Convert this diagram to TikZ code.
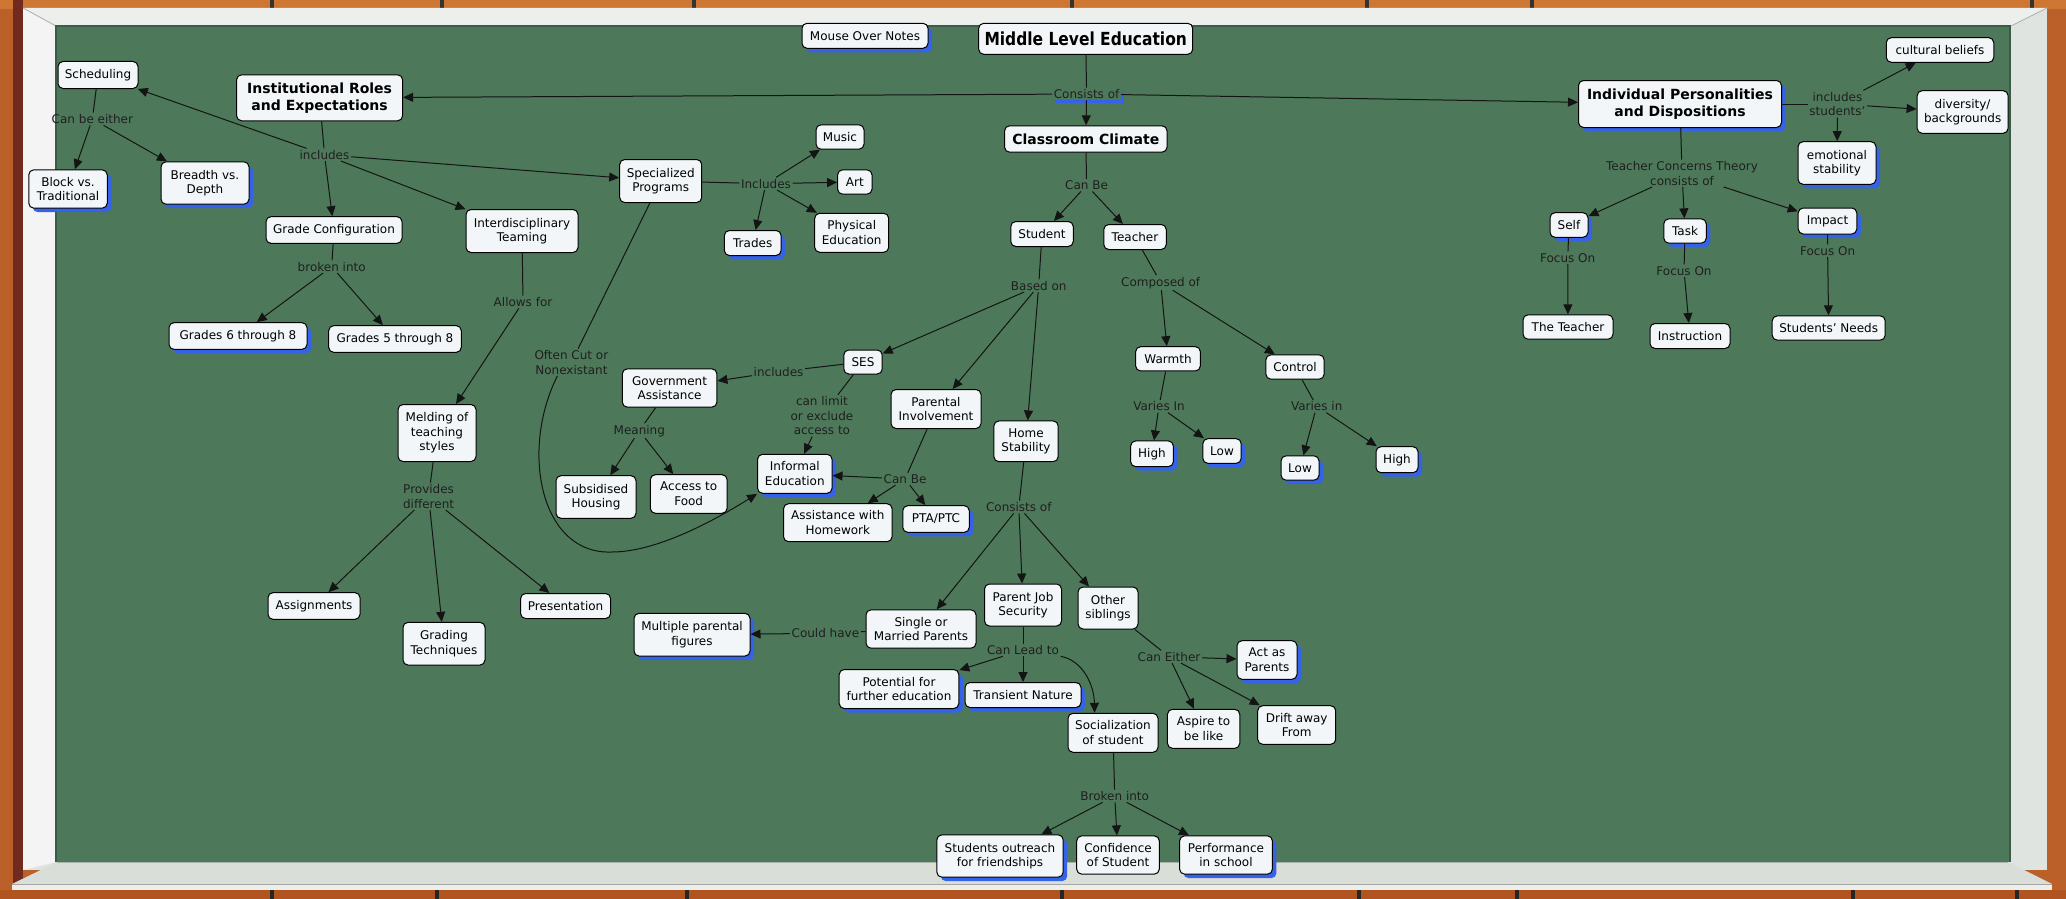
\documentclass[tikz,border=0pt]{standalone}
\usepackage{fontspec}
\usepackage{graphicx}
\setmainfont{DejaVu Sans}
\usetikzlibrary{arrows.meta,shadows}
\definecolor{board}{RGB}{77,121,90}
\definecolor{wood}{RGB}{186,96,40}
\definecolor{woodtop}{RGB}{206,118,52}
\definecolor{woodbot}{RGB}{178,84,32}
\definecolor{wooddark}{RGB}{112,42,30}
\definecolor{frameW}{RGB}{224,228,224}
\definecolor{frameEdge}{RGB}{170,176,172}
\definecolor{trayW}{RGB}{218,222,216}
\definecolor{trayLip}{RGB}{236,238,234}
\definecolor{nodefill}{RGB}{242,246,248}
\definecolor{shblue}{RGB}{52,98,232}
\newcommand\mapfont{\fontsize{12}{14.6}\selectfont}
\newcommand\mapbold{\fontsize{14}{16.8}\selectfont\bfseries}
\tikzset{
  cpt/.style={draw=black, line width=1pt, fill=nodefill, rounded corners=5pt,
    align=center, inner sep=1pt, font=\mapfont, text=black},
  bcpt/.style={cpt, font=\mapbold},
  sz/.style 2 args={minimum width=#1pt, minimum height=#2pt},
  shd/.style={general shadow={fill=shblue, shadow xshift=4pt, shadow yshift=-4pt}},
  lab/.style={inner sep=1.5pt, font=\mapfont, align=center, text=black!88},
  ln/.style={line width=1pt, draw=black!92},
  arr/.style={ln, -{Triangle[length=10pt,width=9pt]}},
}
\begin{document}
\begin{tikzpicture}[x=1pt,y=-1pt]
\useasboundingbox (0,0) rectangle (2066,899);
% ---------- background ----------
\fill[wood] (0,0) rectangle (2066,899);
\fill[woodtop] (0,0) rectangle (2066,9);
\foreach \x in {270,440,692,1070,1365,1530,2030} \fill[black!80] (\x,0) rectangle ++(4,8);
\fill[wooddark] (13,0) rectangle (23,899);
\fill[frameW] (23,8) rectangle (2047,870);
\fill[white!60!frameW] (23,8) -- (56,26) -- (56,862) -- (23,870) -- cycle;
\fill[white!40!frameW] (23,8) -- (2047,8) -- (2011,26) -- (56,26) -- cycle;
\draw[frameEdge, line width=0.8pt] (23,8) -- (56,26) (2047,8) -- (2011,26);
\fill[board] (56,26) rectangle (2010,862);
\draw[board!75!black, line width=1.2pt] (56,862) -- (56,26) -- (2010,26) -- (2010,862);
\fill[trayW] (57,862) -- (2008,862) -- (2052,884) -- (12,884) -- cycle;
\draw[frameEdge, line width=0.6pt] (57,862) -- (2008,862);
\fill[trayLip] (12,884) rectangle (2052,890);
\draw[gray!70, line width=0.6pt] (12,884) -- (2052,884);
\fill[woodbot] (0,890) rectangle (2066,899);
\foreach \x in {270,435,685,1060,1357,1515,1851,2015} \fill[black!85] (\x,890) rectangle ++(4,9);
% ---------- concept nodes ----------
\node[cpt, sz={214}{31}] (mle) at (1085.7,38.8) {\scalebox{0.86}[1]{\fontsize{18}{20}\selectfont\bfseries Middle Level Education}};
\node[cpt, shd, sz={126}{25}] (mon) at (865,35.8) {Mouse Over Notes};
\node[bcpt, sz={166}{46}] (irl) at (319.6,97.8) {Institutional Roles\\and Expectations};
\node[bcpt, shd, sz={203}{47}] (ipd) at (1680,104) {Individual Personalities\\and Dispositions};
\node[bcpt, sz={162.5}{26.3}] (cc) at (1085.8,139) {Classroom Climate};
\node[cpt, sz={80}{27}] (sched) at (98,75) {Scheduling};
\node[cpt, shd, sz={78.5}{38.3}] (block) at (68,189) {Block vs.\\Traditional};
\node[cpt, shd, sz={88}{42.3}] (breadth) at (205,183) {Breadth vs.\\Depth};
\node[cpt, sz={136}{26.7}] (gradecfg) at (334,230) {Grade Configuration};
\node[cpt, sz={112}{43}] (interd) at (522,231) {Interdisciplinary\\Teaming};
\node[cpt, sz={82}{43}] (spec) at (660.7,181) {Specialized\\Programs};
\node[cpt, sz={48}{24.3}] (music) at (840,137) {Music};
\node[cpt, sz={34.4}{24.3}] (art) at (854.8,182) {Art};
\node[cpt, sz={74}{39}] (pe) at (851.7,232.8) {Physical\\Education};
\node[cpt, shd, sz={56.7}{25}] (trades) at (752.7,243) {Trades};
\node[cpt, shd, sz={138}{26.7}] (g68) at (238,336) {Grades 6 through 8};
\node[cpt, sz={132.6}{26.7}] (g58) at (395,339) {Grades 5 through 8};
\node[cpt, sz={78}{57}] (meld) at (437,433) {Melding of\\teaching\\styles};
\node[cpt, sz={92}{26.7}] (assign) at (314,606) {Assignments};
\node[cpt, sz={82}{42.7}] (grading) at (444,643.7) {Grading\\Techniques};
\node[cpt, sz={90}{25}] (present) at (565.6,606) {Presentation};
\node[cpt, sz={62.5}{25}] (student) at (1042,234) {Student};
\node[cpt, sz={62.5}{25}] (teacher) at (1135,237) {Teacher};
\node[cpt, sz={38.4}{24}] (ses) at (863,362) {SES};
\node[cpt, sz={94.6}{38.3}] (gov) at (669.6,388) {Government\\Assistance};
\node[cpt, sz={80}{42.6}] (subs) at (596,497) {Subsidised\\Housing};
\node[cpt, sz={76.8}{38.6}] (food) at (688.7,494) {Access to\\Food};
\node[cpt, shd, sz={74.5}{39}] (informal) at (794.8,473.8) {Informal\\Education};
\node[cpt, sz={90}{39}] (parinv) at (936,409) {Parental\\Involvement};
\node[cpt, sz={108.5}{38}] (homework) at (837.8,522.7) {Assistance with\\Homework};
\node[cpt, shd, sz={66.5}{26.7}] (pta) at (936,519) {PTA/PTC};
\node[cpt, sz={64.3}{40.7}] (home) at (1026,441.3) {Home\\Stability};
\node[cpt, sz={110}{38.3}] (single) at (921,629) {Single or\\Married Parents};
\node[cpt, sz={77}{42}] (pjs) at (1023,605) {Parent Job\\Security};
\node[cpt, sz={60}{42}] (sibl) at (1108,608) {Other\\siblings};
\node[cpt, shd, sz={116}{42.7}] (multi) at (692,634.7) {Multiple parental\\figures};
\node[cpt, shd, sz={119.6}{39}] (potential) at (899,689) {Potential for\\further education};
\node[cpt, shd, sz={116}{25}] (transient) at (1023,695) {Transient Nature};
\node[cpt, sz={90}{39}] (social) at (1113,732.8) {Socialization\\of student};
\node[cpt, sz={72.3}{39}] (aspire) at (1203.6,728.8) {Aspire to\\be like};
\node[cpt, sz={78}{38.6}] (drift) at (1296.7,725) {Drift away\\From};
\node[cpt, shd, sz={60}{38.6}] (act) at (1267,660) {Act as\\Parents};
\node[cpt, shd, sz={126.3}{42.3}] (outreach) at (1000,856) {Students outreach\\for friendships};
\node[cpt, sz={82.6}{38.3}] (confid) at (1118,855) {Confidence\\of Student};
\node[cpt, shd, sz={92.8}{38.3}] (perform) at (1226,855) {Performance\\in school};
\node[cpt, sz={64.7}{24.3}] (warmth) at (1168,358.8) {Warmth};
\node[cpt, sz={58.3}{24.3}] (control) at (1295,367) {Control};
\node[cpt, shd, sz={42.7}{25.7}] (whigh) at (1152,453.8) {High};
\node[cpt, shd, sz={38.3}{24.7}] (wlow) at (1222,451) {Low};
\node[cpt, shd, sz={38}{24.3}] (clow) at (1300,468) {Low};
\node[cpt, shd, sz={42}{26}] (chigh) at (1397,459.7) {High};
\node[cpt, sz={107.5}{24.6}] (cult) at (1940,50) {cultural beliefs};
\node[cpt, sz={91}{42.6}] (divers) at (1962.6,112) {diversity/\\backgrounds};
\node[cpt, shd, sz={78}{42.6}] (emot) at (1837,163) {emotional\\stability};
\node[cpt, shd, sz={38}{24.6}] (self) at (1569,225) {Self};
\node[cpt, shd, sz={42.5}{24.3}] (task) at (1685,231) {Task};
\node[cpt, shd, sz={58.6}{26}] (impact) at (1827.5,221) {Impact};
\node[cpt, sz={90}{24.3}] (theteacher) at (1568,327) {The Teacher};
\node[cpt, sz={80}{25}] (instr) at (1690,336) {Instruction};
\node[cpt, sz={113}{24.3}] (sneeds) at (1828.7,328) {Students' Needs};
% ---------- linking phrases ----------
\node[lab, fill=board, general shadow={fill=shblue, shadow xshift=3pt, shadow yshift=-3pt}] (consists) at (1086.6,94) {Consists of};
\node[lab] (canbeeither) at (92.4,119) {Can be either};
\node[lab] (includes1) at (324.5,154.7) {includes};
\node[lab] (brokeninto) at (331.7,266.7) {broken into};
\node[lab] (allowsfor) at (523,302) {Allows for};
\node[lab] (includes2) at (766,183.7) {Includes};
\node[lab] (oftencut) at (571.4,362.3) {Often Cut or\\Nonexistant};
\node[lab] (provides) at (428.6,496.3) {Provides\\different};
\node[lab] (canbe1) at (1086.6,185.3) {Can Be};
\node[lab] (basedon) at (1038.7,285.7) {Based on};
\node[lab] (composed) at (1160.7,282.7) {Composed of};
\node[lab] (includes3) at (778.6,371.7) {includes};
\node[lab] (meaning) at (639.3,430.7) {Meaning};
\node[lab] (canlimit) at (821.9,415.7) {can limit\\or exclude\\access to};
\node[lab] (canbe2) at (905,479) {Can Be};
\node[lab] (consists2) at (1018.8,507) {Consists of};
\node[lab] (couldhave) at (825.4,633.3) {Could have};
\node[lab] (canlead) at (1023,650) {Can Lead to};
\node[lab] (caneither) at (1169,656.7) {Can Either};
\node[lab] (brokeninto2) at (1114.7,796) {Broken into};
\node[lab] (variesin1) at (1159,406.3) {Varies In};
\node[lab] (variesin2) at (1316.7,406.3) {Varies in};
\node[lab] (incstud) at (1837.4,104) {includes\\students'};
\node[lab] (tct) at (1682,173.3) {Teacher Concerns Theory\\consists of};
\node[lab] (focus1) at (1567.7,257.7) {Focus On};
\node[lab] (focus2) at (1684,270.7) {Focus On};
\node[lab] (focus3) at (1827.6,250.7) {Focus On};
% ---------- connectors ----------
\draw[ln] (mle) -- (consists);
\draw[arr] (consists) -- (irl);
\draw[arr] (consists) -- (ipd);
\draw[arr] (consists) -- (cc);
\draw[ln] (irl) -- (includes1);
\foreach \t in {sched,gradecfg,interd,spec} \draw[arr] (includes1) -- (\t);
\draw[ln] (sched) -- (canbeeither);
\foreach \t in {block,breadth} \draw[arr] (canbeeither) -- (\t);
\draw[ln] (gradecfg) -- (brokeninto);
\foreach \t in {g68,g58} \draw[arr] (brokeninto) -- (\t);
\draw[ln] (interd) -- (allowsfor);
\draw[arr] (allowsfor) -- (meld);
\draw[ln] (meld) -- (provides);
\foreach \t in {assign,grading,present} \draw[arr] (provides) -- (\t);
\draw[ln] (spec) -- (includes2);
\foreach \t in {music,art,pe,trades} \draw[arr] (includes2) -- (\t);
\draw[ln] (spec) -- (oftencut);
\draw[arr] ([xshift=-14pt]oftencut.south) .. controls (520,450) and (540,555) .. (612,552)
   .. controls (660,552) and (722.5,515.4) .. (informal.south west);
\draw[ln] (cc) -- (canbe1);
\foreach \t in {student,teacher} \draw[arr] (canbe1) -- (\t);
\draw[ln] (student) -- (basedon);
\foreach \t in {ses,parinv,home} \draw[arr] (basedon) -- (\t);
\draw[ln] (ses) -- (includes3);
\draw[arr] (includes3) -- (gov);
\draw[ln] (gov) -- (meaning);
\foreach \t in {subs,food} \draw[arr] (meaning) -- (\t);
\draw[ln] (ses) -- (canlimit);
\draw[arr] (canlimit) -- (informal);
\draw[ln] (parinv) -- (canbe2);
\foreach \t in {informal,homework,pta} \draw[arr] (canbe2) -- (\t);
\draw[ln] (home) -- (consists2);
\foreach \t in {single,pjs,sibl} \draw[arr] (consists2) -- (\t);
\draw[ln] (single) -- (couldhave);
\draw[arr] (couldhave) -- (multi);
\draw[ln] (pjs) -- (canlead);
\foreach \t in {potential,transient} \draw[arr] (canlead) -- (\t);
\draw[arr] (canlead.south east) .. controls (1082,660) and (1094,684) .. ([xshift=-18.4pt]social.north);
\draw[ln] (sibl) -- (caneither);
\foreach \t in {act,aspire,drift} \draw[arr] (caneither) -- (\t);
\draw[ln] (social) -- (brokeninto2);
\foreach \t in {outreach,confid,perform} \draw[arr] (brokeninto2) -- (\t);
\draw[ln] (teacher) -- (composed);
\foreach \t in {warmth,control} \draw[arr] (composed) -- (\t);
\draw[ln] (warmth) -- (variesin1);
\foreach \t in {whigh,wlow} \draw[arr] (variesin1) -- (\t);
\draw[ln] (control) -- (variesin2);
\foreach \t in {clow,chigh} \draw[arr] (variesin2) -- (\t);
\draw[ln] (ipd) -- (incstud);
\foreach \t in {cult,divers,emot} \draw[arr] (incstud) -- (\t);
\draw[ln] (ipd) -- (tct);
\foreach \t in {self,task,impact} \draw[arr] (tct) -- (\t);
\draw[ln] (self) -- (focus1);
\draw[arr] (focus1) -- (theteacher);
\draw[ln] (task) -- (focus2);
\draw[arr] (focus2) -- (instr);
\draw[ln] (impact) -- (focus3);
\draw[arr] (focus3) -- (sneeds);
\end{tikzpicture}
\end{document}
